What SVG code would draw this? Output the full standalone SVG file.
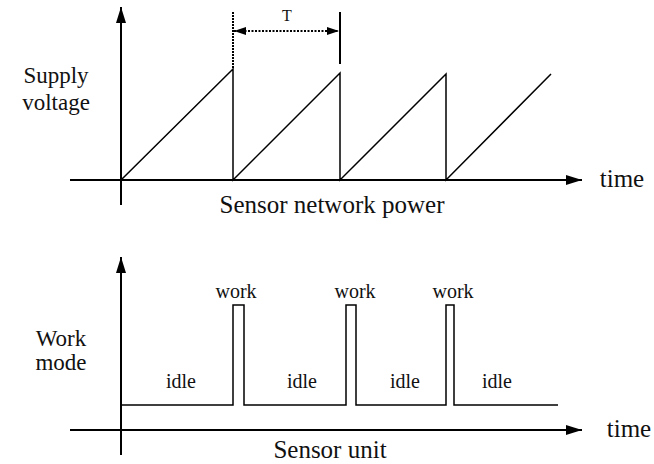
<svg xmlns="http://www.w3.org/2000/svg" width="654" height="464" viewBox="0 0 654 464">
  <style>
    .axis { stroke: #000; stroke-width: 2; fill: none; }
    .wave { stroke: #000; stroke-width: 1.5; fill: none; }
    text { font-family: "Liberation Serif", "DejaVu Serif", serif; fill: #111; text-anchor: middle; }
    .big { font-size: 25px; }
    .side { font-size: 23px; }
    .mid { font-size: 20px; }
    .small { font-size: 16px; }
  </style>
  <defs>
    <marker id="axisHead" viewBox="0 0 16 10" refX="16" refY="5" markerWidth="16" markerHeight="10" markerUnits="userSpaceOnUse" orient="auto">
      <path d="M0,0 L16,5 L0,10 Z" fill="#000"/>
    </marker>
    <marker id="dimHead" viewBox="0 0 12 8" refX="12" refY="4" markerWidth="12" markerHeight="8" markerUnits="userSpaceOnUse" orient="auto-start-reverse">
      <path d="M0,0 L12,4 L0,8 Z" fill="#000"/>
    </marker>
  </defs>
  <rect width="654" height="464" fill="#fff"/>

  <!-- Upper chart: supply voltage sawtooth -->
  <g id="power-chart">
    <line class="axis" x1="121" y1="205" x2="121" y2="7" marker-end="url(#axisHead)"/>
    <line class="axis" x1="70" y1="180" x2="582" y2="180" marker-end="url(#axisHead)"/>
    <path class="wave" d="M121,180 L233,69 L233,180 L340,73 L340,180 L446,74 L446,180 L551,74"/>
    <!-- period marker -->
    <line x1="233" y1="12" x2="233" y2="69" stroke="#000" stroke-width="2" stroke-dasharray="2,1"/>
    <line x1="340" y1="12" x2="340" y2="64" stroke="#000" stroke-width="2"/>
    <line x1="234" y1="31" x2="339" y2="31" stroke="#000" stroke-width="2" stroke-dasharray="2,1.5" marker-start="url(#dimHead)" marker-end="url(#dimHead)"/>
    <text class="small" x="287" y="21">T</text>
    <text class="side" x="56" y="83">Supply</text>
    <text class="side" x="56" y="110">voltage</text>
    <text class="big" x="622" y="187">time</text>
    <text class="big" x="332" y="213">Sensor network power</text>
  </g>

  <!-- Lower chart: sensor work mode pulses -->
  <g id="mode-chart">
    <line class="axis" x1="121" y1="455" x2="121" y2="257" marker-end="url(#axisHead)"/>
    <line class="axis" x1="70" y1="430" x2="582" y2="430" marker-end="url(#axisHead)"/>
    <path class="wave" d="M121,405 L233,405 L233,305 L244,305 L244,405 L346,405 L346,305 L356,305 L356,405 L446,405 L446,305 L454,305 L454,405 L558,405"/>
    <text class="mid" x="236" y="298">work</text>
    <text class="mid" x="355" y="298">work</text>
    <text class="mid" x="453" y="298">work</text>
    <text class="mid" x="181" y="388">idle</text>
    <text class="mid" x="302" y="388">idle</text>
    <text class="mid" x="405" y="388">idle</text>
    <text class="mid" x="497" y="388">idle</text>
    <text class="side" x="61" y="346">Work</text>
    <text class="side" x="61" y="370">mode</text>
    <text class="big" x="629" y="437">time</text>
    <text class="big" x="330" y="458">Sensor unit</text>
  </g>
</svg>
